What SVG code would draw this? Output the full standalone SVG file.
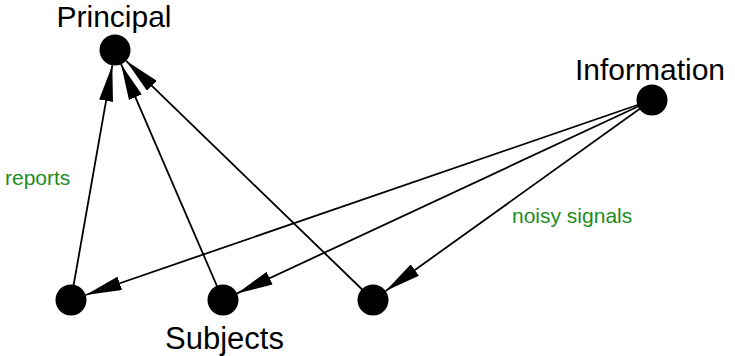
<svg xmlns="http://www.w3.org/2000/svg" width="735" height="356" viewBox="0 0 735 356">
<style>
.node{fill:#000}
.lbl{font-family:"Liberation Sans",Arial,Helvetica,sans-serif;fill:#000}
.gl{font-family:"Liberation Sans",Arial,Helvetica,sans-serif;fill:#1E8C1E}
.edge{stroke:#000;stroke-width:1.8;fill:none;marker-end:url(#ah)}
</style>
<defs>
<marker id="ah" markerUnits="userSpaceOnUse" viewBox="0 0 36 14" refX="36" refY="7" markerWidth="36" markerHeight="14" orient="auto">
<path d="M0,0 L36,7 L0,14 z" fill="#000"/>
</marker>
</defs>
<rect width="735" height="356" fill="#fff"/>
<g id="connectors">
<line class="edge" x1="71" y1="300" x2="112.3" y2="65.3"/>
<line class="edge" x1="223" y1="300" x2="121.1" y2="64.2"/>
<line class="edge" x1="373" y1="300" x2="126.1" y2="60.8"/>
<line class="edge" x1="652" y1="100" x2="85.7" y2="295"/>
<line class="edge" x1="652" y1="100" x2="237" y2="293.4"/>
<line class="edge" x1="652" y1="100" x2="385.6" y2="291"/>
<text class="gl" x="5" y="185" font-size="21">reports</text>
<text class="gl" x="512" y="223" font-size="21">noisy signals</text>
</g>
<g id="principal">
<circle class="node" cx="115" cy="50" r="15.5"/>
<text class="lbl" x="114" y="27" font-size="30" text-anchor="middle">Principal</text>
</g>
<g id="information">
<circle class="node" cx="652" cy="100" r="15.5"/>
<text class="lbl" x="650" y="80" font-size="30" text-anchor="middle">Information</text>
</g>
<g id="subject1">
<circle class="node" cx="71" cy="300" r="15.5"/>
</g>
<g id="subject2">
<circle class="node" cx="223" cy="300" r="15.5"/>
<text class="lbl" x="224.5" y="349" font-size="31" text-anchor="middle">Subjects</text>
</g>
<g id="subject3">
<circle class="node" cx="373" cy="300" r="15.5"/>
</g>
</svg>
